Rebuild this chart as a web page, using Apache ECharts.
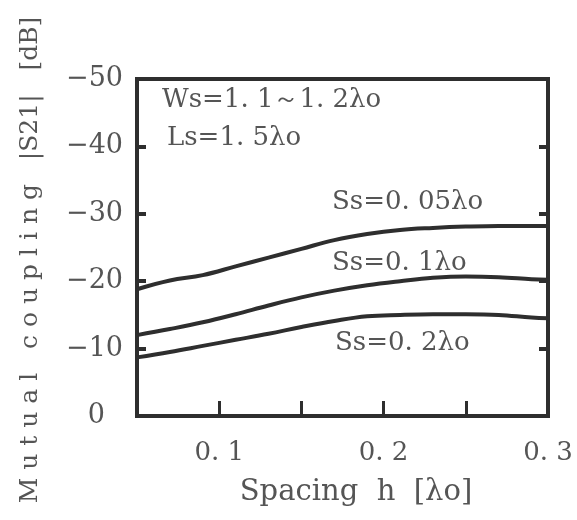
<!DOCTYPE html>
<html><head><meta charset="utf-8">
<script src="https://cdn.jsdelivr.net/npm/echarts@6/dist/echarts.min.js"></script>
<style>html,body{margin:0;padding:0;background:#fff}#c{width:577px;height:520px}</style>
</head><body><div id="c"></div>
<script>
const spacing = [0.05, 0.07, 0.09, 0.11, 0.13, 0.15, 0.17, 0.19, 0.21, 0.23, 0.25, 0.27, 0.29, 0.30];
const ss005 = [-18.8, -20.1, -20.9, -22.2, -23.5, -24.8, -26.1, -27.0, -27.6, -27.9, -28.1, -28.2, -28.2, -28.2];
const ss01  = [-12.0, -12.9, -13.9, -15.1, -16.4, -17.6, -18.6, -19.4, -20.0, -20.5, -20.7, -20.6, -20.3, -20.2];
const ss02  = [-8.7, -9.5, -10.4, -11.3, -12.2, -13.2, -14.1, -14.8, -15.0, -15.1, -15.1, -15.0, -14.6, -14.5];
const seriesNames = ['Ss=0. 05λo', 'Ss=0. 1λo', 'Ss=0. 2λo'];
const noteTexts = ['Ws=1. 1～1. 2λo', 'Ls=1. 5λo'];
const xTickLabels = {0.1: '0. 1', 0.2: '0. 2', 0.3: '0. 3'};
const yTickLabels = {'-50': '−50', '-40': '−40', '-30': '−30', '-20': '−20', '-10': '−10', '0': '0'};
const xTitle = 'Spacing  h  [λo]';
const yTitle = 'M u t u a l   c o u p l i n g   |S21|   [dB]';

const FONT = 'DejaVu Serif';
const TXT = '#555';
const LINE = '#2e2e2e';

const chart = echarts.init(document.getElementById('c'));
function mk(name, ys) {
  return {
    name: name, type: 'line', smooth: 0.4, showSymbol: false,
    lineStyle: {color: LINE, width: 4},
    data: spacing.map((x, i) => [x, ys[i]])
  };
}
const axisCommonY = {
  type: 'value', inverse: true, min: -50, max: 0, interval: 10,
  axisLine: {show: false}, splitLine: {show: false},
  axisTick: {show: true, inside: true, length: 9, lineStyle: {color: LINE, width: 4}}
};
const annoFont = '26px "DejaVu Serif"';
chart.setOption({
  animation: false,
  backgroundColor: '#fff',
  grid: {left: 137, right: 29, top: 79, bottom: 104, show: true, borderColor: LINE, borderWidth: 4, backgroundColor: 'transparent'},
  xAxis: {
    type: 'value', min: 0.05, max: 0.3, interval: 0.05,
    axisLine: {show: false}, splitLine: {show: false},
    axisTick: {show: true, inside: true, length: 15, lineStyle: {color: LINE, width: 3}},
    axisLabel: {
      color: TXT, fontFamily: FONT, fontSize: 26, margin: 24,
      formatter: v => { const k = Math.round(v * 100) / 100; return xTickLabels[k] || ''; }
    }
  },
  yAxis: [
    Object.assign({}, axisCommonY, {
      position: 'left',
      axisLabel: {
        color: TXT, fontFamily: FONT, fontSize: 27, margin: 14,
        formatter: v => v === 0 ? '{z|0}' : yTickLabels[String(v)],
        rich: {z: {color: TXT, fontFamily: FONT, fontSize: 27, padding: [0, 18, 0, 0]}}
      }
    }),
    Object.assign({}, axisCommonY, {position: 'right', axisLabel: {show: false}})
  ],
  series: [mk(seriesNames[0], ss005), mk(seriesNames[1], ss01), mk(seriesNames[2], ss02)],
  graphic: [
    {type: 'text', left: 162, top: 87, style: {text: noteTexts[0], font: annoFont, fill: TXT}},
    {type: 'text', left: 167, top: 125, style: {text: noteTexts[1], font: annoFont, fill: TXT}},
    {type: 'text', left: 332, top: 189, style: {text: seriesNames[0], font: annoFont, fill: TXT}},
    {type: 'text', left: 332, top: 250, style: {text: seriesNames[1], font: annoFont, fill: TXT}},
    {type: 'text', left: 335, top: 330, style: {text: seriesNames[2], font: annoFont, fill: TXT}},
    {type: 'text', x: 356, y: 492, style: {text: xTitle, font: '29px "DejaVu Serif"', fill: TXT, align: 'center', verticalAlign: 'middle'}},
    {type: 'text', x: 30, y: 260, rotation: Math.PI / 2, style: {text: yTitle, font: '25px "DejaVu Serif"', fill: TXT, align: 'center', verticalAlign: 'middle'}}
  ]
});
</script></body></html>
